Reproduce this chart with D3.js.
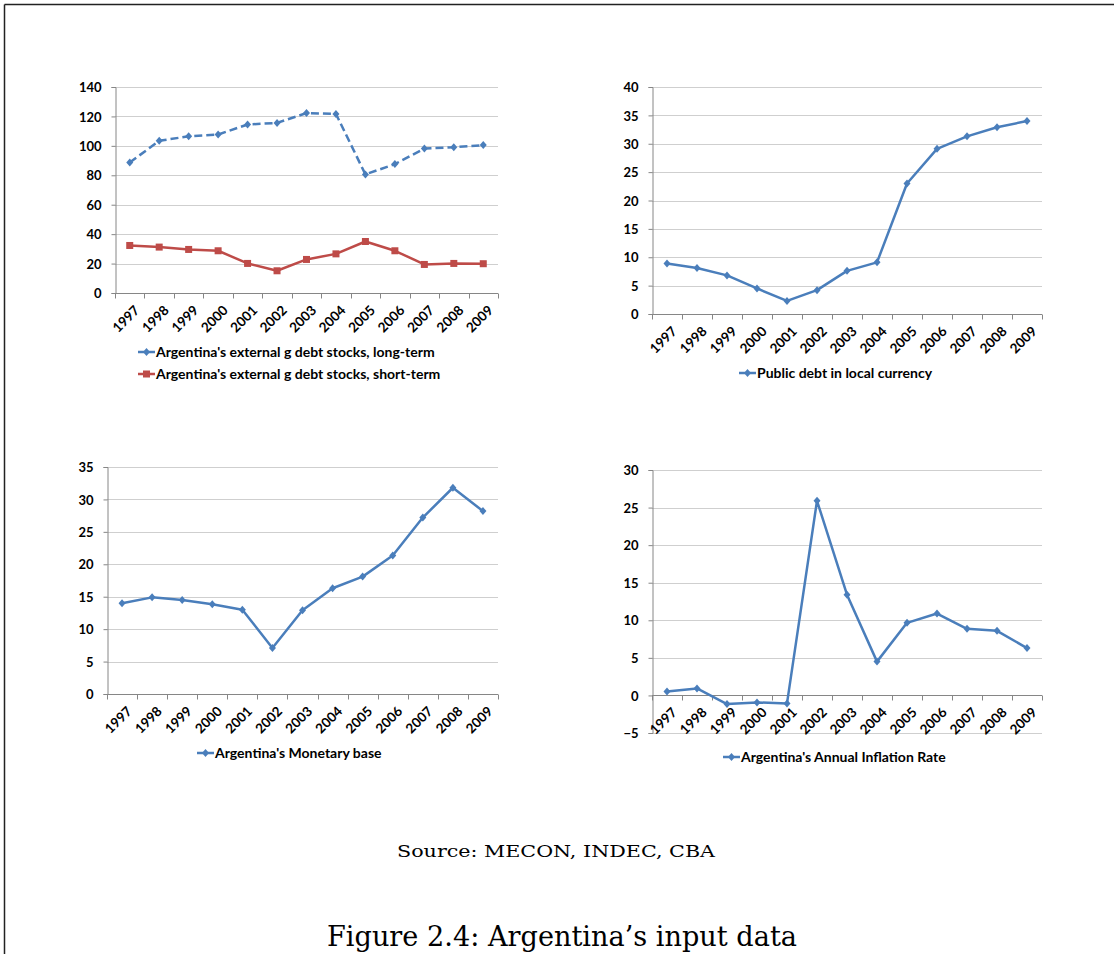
<!DOCTYPE html>
<html>
<head>
<meta charset="utf-8">
<script src="https://cdn.jsdelivr.net/npm/d3@7"></script>
<style>
  html, body { margin: 0; padding: 0; background: #fff; }
  svg { display: block; }
  .tick-label { font-family: Lato, "Open Sans", sans-serif; font-weight: bold; font-size: 13px; fill: #000; }
  .year-label { font-family: Lato, "Open Sans", sans-serif; font-weight: bold; font-size: 13.5px; fill: #000; }
  .legend-label { font-family: Lato, "Open Sans", sans-serif; font-weight: bold; font-size: 14px; fill: #000; }
  .caption { font-family: "DejaVu Serif", "Liberation Serif", serif; fill: #000; }
</style>
</head>
<body>
<div id="chart"></div>
<script>
// Data
const years = ['1997', '1998', '1999', '2000', '2001', '2002', '2003', '2004', '2005', '2006', '2007', '2008', '2009'];
const extDebtLong = [88.7, 103.4, 106.5, 107.7, 114.5, 115.6, 122.3, 121.7, 80.6, 87.6, 98.2, 99.1, 100.5];
const extDebtShort = [32.3, 31.2, 29.6, 28.7, 20.1, 15.1, 22.8, 26.6, 35.0, 28.7, 19.4, 20.1, 19.9];
const publicDebtLocal = [8.9, 8.1, 6.8, 4.5, 2.3, 4.2, 7.6, 9.1, 23.0, 29.1, 31.3, 32.9, 34.0];
const monetaryBase = [14.0, 14.9, 14.5, 13.85, 13.0, 7.1, 12.9, 16.3, 18.1, 21.35, 27.2, 31.8, 28.2];
const inflationRate = [0.53, 0.93, -1.15, -0.93, -1.06, 25.9, 13.4, 4.5, 9.66, 10.9, 8.86, 8.6, 6.3];

const ticksDebt = [0, 20, 40, 60, 80, 100, 120, 140];
const ticksPublic = [0, 5, 10, 15, 20, 25, 30, 35, 40];
const ticksMonetary = [0, 5, 10, 15, 20, 25, 30, 35];
const ticksInflation = [-5, 0, 5, 10, 15, 20, 25, 30];

const BLUE = '#4a7ebb';
const RED = '#be4b48';

const width = 1114, height = 954;

const svg = d3.select('#chart')
    .append('svg')
    .attr('width', width)
    .attr('height', height);

// Page frame (top and left rule)
svg.append('line').attr('x1', 4.5).attr('x2', width).attr('y1', 4.5).attr('y2', 4.5)
    .attr('stroke', '#222').attr('stroke-width', 1.5);
svg.append('line').attr('x1', 4.5).attr('x2', 4.5).attr('y1', 4.5).attr('y2', height)
    .attr('stroke', '#222').attr('stroke-width', 1.5);

const panels = [
    {
        box: { left: 115, right: 498, top: 87, bottom: 293 },
        ticks: ticksDebt,
        series: [
            { name: "Argentina's external g debt stocks, long-term", values: extDebtLong, color: BLUE, marker: 'diamond', dash: '8,4' },
            { name: "Argentina's external g debt stocks, short-term", values: extDebtShort, color: RED, marker: 'square' }
        ],
        legend: { x: 138, y: 352, step: 22 }
    },
    {
        box: { left: 652, right: 1042, top: 87, bottom: 314 },
        ticks: ticksPublic,
        series: [
            { name: 'Public debt in local currency', values: publicDebtLocal, color: BLUE, marker: 'diamond' }
        ],
        legend: { x: 739, y: 373, step: 22 }
    },
    {
        box: { left: 107, right: 498, top: 467, bottom: 694 },
        ticks: ticksMonetary,
        series: [
            { name: "Argentina's Monetary base", values: monetaryBase, color: BLUE, marker: 'diamond' }
        ],
        legend: { x: 197, y: 753, step: 22 }
    },
    {
        box: { left: 652, right: 1042, top: 470, bottom: 733 },
        ticks: ticksInflation,
        series: [
            { name: "Argentina's Annual Inflation Rate", values: inflationRate, color: BLUE, marker: 'diamond' }
        ],
        legend: { x: 723, y: 757, step: 22 }
    }
];

function drawMarker(g, type, color, x, y) {
    if (type === 'square') {
        g.append('rect')
            .attr('x', x - 3.5).attr('y', y - 3.5)
            .attr('width', 7).attr('height', 7)
            .attr('fill', color);
    } else {
        g.append('path')
            .attr('d', `M${x},${y - 4}L${x + 3.5},${y}L${x},${y + 4}L${x - 3.5},${y}Z`)
            .attr('fill', color);
    }
}

function drawPanel(p) {
    const g = svg.append('g');
    const b = p.box;

    const x = d3.scaleBand()
        .domain(years)
        .range([b.left, b.right])
        .paddingInner(0)
        .paddingOuter(0);

    const y = d3.scaleLinear()
        .domain(d3.extent(p.ticks))
        .range([b.bottom, b.top]);

    const cx = d => x(d) + x.bandwidth() / 2;

    // Gridlines
    g.selectAll('.grid')
        .data(p.ticks)
        .enter()
        .append('line')
        .attr('x1', b.left).attr('x2', b.right)
        .attr('y1', d => Math.round(y(d)) + 0.5)
        .attr('y2', d => Math.round(y(d)) + 0.5)
        .attr('stroke', '#cfcfcf')
        .attr('stroke-width', 1);

    // Y axis
    const yAxis = d3.axisLeft(y)
        .tickValues(p.ticks)
        .tickSize(4)
        .tickPadding(10)
        .tickFormat(d3.format('d'));

    const ya = g.append('g')
        .attr('transform', `translate(${Math.round(b.left) + 0.5},0)`)
        .call(yAxis);
    ya.select('.domain').attr('stroke', '#868686');
    ya.selectAll('.tick line').attr('stroke', '#868686');
    ya.selectAll('.tick text').attr('class', 'tick-label').attr('dy', '0.36em');

    // X axis sits at zero
    const zeroY = Math.round(y(0)) + 0.5;
    g.append('line')
        .attr('x1', b.left).attr('x2', b.right)
        .attr('y1', zeroY).attr('y2', zeroY)
        .attr('stroke', '#868686');

    const boundaries = years.map(d => x(d)).concat([b.right]);
    g.selectAll('.xtick')
        .data(boundaries)
        .enter()
        .append('line')
        .attr('x1', d => Math.round(d) + 0.5).attr('x2', d => Math.round(d) + 0.5)
        .attr('y1', zeroY).attr('y2', zeroY + 5)
        .attr('stroke', '#868686');

    g.selectAll('.xlabel')
        .data(years)
        .enter()
        .append('text')
        .attr('class', 'year-label')
        .attr('text-anchor', 'end')
        .attr('transform', d => `translate(${cx(d) + 4},${zeroY + 11}) rotate(-45)`)
        .attr('dy', '0.7em')
        .text(d => d);

    // Series
    p.series.forEach(s => {
        const line = d3.line()
            .x((v, i) => cx(years[i]))
            .y(v => y(v));

        g.append('path')
            .datum(s.values)
            .attr('fill', 'none')
            .attr('stroke', s.color)
            .attr('stroke-width', 2.5)
            .attr('stroke-linejoin', 'round')
            .attr('stroke-dasharray', s.dash || null)
            .attr('d', line);

        s.values.forEach((v, i) => drawMarker(g, s.marker, s.color, cx(years[i]), y(v)));
    });

    // Legend
    p.series.forEach((s, i) => {
        const ly = p.legend.y + i * p.legend.step;
        const lx = p.legend.x;
        g.append('line')
            .attr('x1', lx).attr('x2', lx + 17)
            .attr('y1', ly).attr('y2', ly)
            .attr('stroke', s.color)
            .attr('stroke-width', 2.5);
        drawMarker(g, s.marker, s.color, lx + 8.5, ly);
        g.append('text')
            .attr('class', 'legend-label')
            .attr('x', lx + 18)
            .attr('y', ly)
            .attr('dy', '0.36em')
            .text(s.name);
    });
}

panels.forEach(drawPanel);

// Captions
svg.append('text')
    .attr('class', 'caption')
    .attr('x', 397)
    .attr('y', 857)
    .attr('textLength', 318)
    .attr('lengthAdjust', 'spacingAndGlyphs')
    .style('font-size', '17px')
    .text('Source: MECON, INDEC, CBA');

svg.append('text')
    .attr('class', 'caption')
    .attr('x', 327)
    .attr('y', 946)
    .attr('textLength', 470)
    .attr('lengthAdjust', 'spacingAndGlyphs')
    .style('font-size', '27px')
    .text('Figure 2.4: Argentina\u2019s input data');
</script>
</body>
</html>
